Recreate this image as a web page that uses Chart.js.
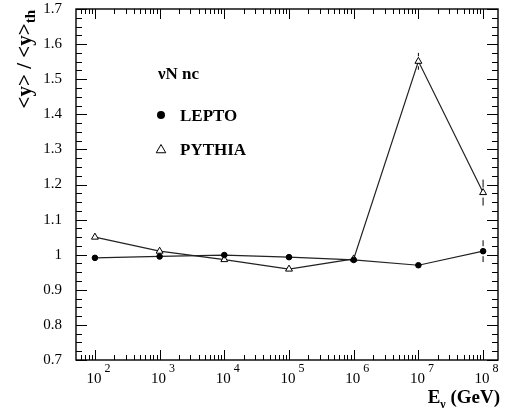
<!DOCTYPE html>
<html>
<head>
<meta charset="utf-8">
<script src="https://cdn.jsdelivr.net/npm/chart.js@4.4.0/dist/chart.umd.min.js"></script>
<style>
  body{margin:0;background:#fff;}
</style>
</head>
<body>
<canvas id="myChart" width="505" height="418"></canvas>
<script>
//donnees
const energies = [1e2, 1e3, 1e4, 1e5, 1e6, 1e7, 1e8];
const lepto = [0.991, 0.995, 0.999, 0.993, 0.985, 0.970, 1.010];
const leptoErr = [0.003, 0.003, 0.003, 0.003, 0.003, 0.004, 0.031];
const pythia = [1.050, 1.010, 0.986, 0.959, 0.988, 1.551, 1.177];
const pythiaErr = [0.004, 0.004, 0.004, 0.004, 0.006, 0.024, 0.037];
const yTicks = [0.7, 0.8, 0.9, 1, 1.1, 1.2, 1.3, 1.4, 1.5, 1.6, 1.7];
const yTickLabels = ['0.7', '0.8', '0.9', '1', '1.1', '1.2', '1.3', '1.4', '1.5', '1.6', '1.7'];
const xDecades = [2, 3, 4, 5, 6, 7, 8];

const FONT = '"Liberation Serif", "Times New Roman", serif';

//barres d'erreur (dessinees sous les marqueurs)
const errorBars = {
  id: 'errorBars',
  beforeDatasetsDraw(chart) {
    const ctx = chart.ctx, x = chart.scales.x, y = chart.scales.y;
    ctx.save();
    ctx.strokeStyle = '#000';
    ctx.lineWidth = 1;
    [[lepto, leptoErr], [pythia, pythiaErr]].forEach(([vals, errs]) => {
      vals.forEach((v, i) => {
        const px = x.getPixelForValue(energies[i]);
        const top = y.getPixelForValue(v + errs[i]);
        const bot = y.getPixelForValue(v - errs[i]);
        const c = y.getPixelForValue(v);
        const gap = 5;
        if (c - gap > top) { ctx.beginPath(); ctx.moveTo(px, top); ctx.lineTo(px, c - gap); ctx.stroke(); }
        if (c + gap < bot) { ctx.beginPath(); ctx.moveTo(px, c + gap); ctx.lineTo(px, bot); ctx.stroke(); }
      });
    });
    ctx.restore();
  }
};

//cadre, graduations, textes
const frame = {
  id: 'frame',
  afterDraw(chart) {
    const ctx = chart.ctx, a = chart.chartArea, x = chart.scales.x, y = chart.scales.y;
    ctx.save();
    ctx.strokeStyle = '#000';
    ctx.fillStyle = '#000';

    //graduations y (gauche et droite)
    ctx.lineWidth = 1;
    for (let k = 0; k <= 40; k++) {
      const v = 0.7 + k * 0.025;
      const py = Math.round(y.getPixelForValue(v)) + 0.5;
      const len = (k % 4 == 0) ? 11 : 6;
      ctx.beginPath();
      ctx.moveTo(a.left, py); ctx.lineTo(a.left + len, py);
      ctx.moveTo(a.right, py); ctx.lineTo(a.right - len, py);
      ctx.stroke();
    }

    //graduations x (bas et haut)
    for (let d = 1; d <= 8; d++) {
      for (let m = 1; m <= 9; m++) {
        const v = m * Math.pow(10, d);
        if (v < x.min || v > x.max) continue;
        const px = Math.round(x.getPixelForValue(v)) + 0.5;
        const len = (m == 1) ? 10 : 5;
        ctx.beginPath();
        ctx.moveTo(px, a.bottom); ctx.lineTo(px, a.bottom - len);
        ctx.moveTo(px, a.top); ctx.lineTo(px, a.top + len);
        ctx.stroke();
      }
    }

    //cadre
    ctx.lineWidth = 1.4;
    ctx.strokeRect(a.left, a.top, a.right - a.left, a.bottom - a.top);

    //labels y
    ctx.font = '15px ' + FONT;
    ctx.textAlign = 'right';
    ctx.textBaseline = 'middle';
    yTicks.forEach((v, i) => {
      ctx.fillText(yTickLabels[i], a.left - 14, y.getPixelForValue(v));
    });

    //labels x : 10^n
    ctx.textBaseline = 'alphabetic';
    xDecades.forEach(n => {
      const px = x.getPixelForValue(Math.pow(10, n));
      ctx.font = '15px ' + FONT;
      ctx.textAlign = 'center';
      const w = ctx.measureText('10').width;
      ctx.fillText('10', px - 1, a.bottom + 23);
      ctx.font = '12px ' + FONT;
      ctx.textAlign = 'left';
      ctx.fillText(String(n), px - 1 + w / 2 + 3, a.bottom + 12);
    });

    //titre x
    ctx.font = 'bold 19px ' + FONT;
    const wE = ctx.measureText('E').width;
    const wG = ctx.measureText(' (GeV)').width;
    ctx.font = 'bold 12px ' + FONT;
    const wNu = ctx.measureText('\u03bd').width;
    const x0 = 500 - (wE + wNu + wG);
    ctx.textAlign = 'left';
    ctx.font = 'bold 19px ' + FONT;
    ctx.fillText('E', x0, 403);
    ctx.fillText(' (GeV)', x0 + wE + wNu, 403);
    ctx.font = 'bold 12px ' + FONT;
    ctx.fillText('\u03bd', x0 + wE, 408);

    //titre y
    ctx.font = 'bold 21px ' + FONT;
    const wMain = ctx.measureText('<y> / <y>').width;
    ctx.font = 'bold 15px ' + FONT;
    const wSub = ctx.measureText('th').width;
    ctx.save();
    ctx.translate(31, 10 + wMain + wSub);
    ctx.rotate(-Math.PI / 2);
    ctx.font = 'bold 21px ' + FONT;
    ctx.fillText('<y> / <y>', 0, 0);
    ctx.font = 'bold 15px ' + FONT;
    ctx.fillText('th', wMain, 4);
    ctx.restore();

    //legende dans le cadre
    ctx.font = 'bold 17px ' + FONT;
    ctx.fillText('\u03bdN nc', 158, 79);
    ctx.fillText('LEPTO', 180, 121);
    ctx.fillText('PYTHIA', 180, 155);
    ctx.beginPath();
    ctx.arc(161, 115, 4, 0, Math.PI * 2);
    ctx.fill();
    ctx.lineWidth = 1;
    ctx.beginPath();
    const r = 5.5;
    ctx.moveTo(161, 150 - r);
    ctx.lineTo(161 + r * 0.866, 150 + r / 2);
    ctx.lineTo(161 - r * 0.866, 150 + r / 2);
    ctx.closePath();
    ctx.stroke();

    ctx.restore();
  }
};

const data = {
  datasets: [{
    label: 'LEPTO',
    data: energies.map((e, i) => ({ x: e, y: lepto[i] })),
    borderColor: '#222',
    borderWidth: 1.2,
    pointStyle: 'circle',
    pointRadius: 2.8,
    pointBackgroundColor: '#000',
    pointBorderColor: '#000',
    pointBorderWidth: 1
  },
  {
    label: 'PYTHIA',
    data: energies.map((e, i) => ({ x: e, y: pythia[i] })),
    borderColor: '#222',
    borderWidth: 1.2,
    pointStyle: 'triangle',
    pointRadius: 4,
    pointBackgroundColor: '#fff',
    pointBorderColor: '#000',
    pointBorderWidth: 1
  }]
};

const config = {
  type: 'line',
  data: data,
  options: {
    responsive: false,
    animation: false,
    devicePixelRatio: 1,
    layout: { padding: { left: 76, right: 7, top: 9, bottom: 58 } },
    scales: {
      x: { type: 'logarithmic', min: 51, max: 1.7e8, bounds: 'data', display: false },
      y: { type: 'linear', min: 0.7, max: 1.7, display: false }
    },
    plugins: {
      legend: { display: false },
      tooltip: { enabled: false }
    }
  },
  plugins: [errorBars, frame]
};

const myChart = new Chart(document.getElementById('myChart'), config);
</script>
</body>
</html>
